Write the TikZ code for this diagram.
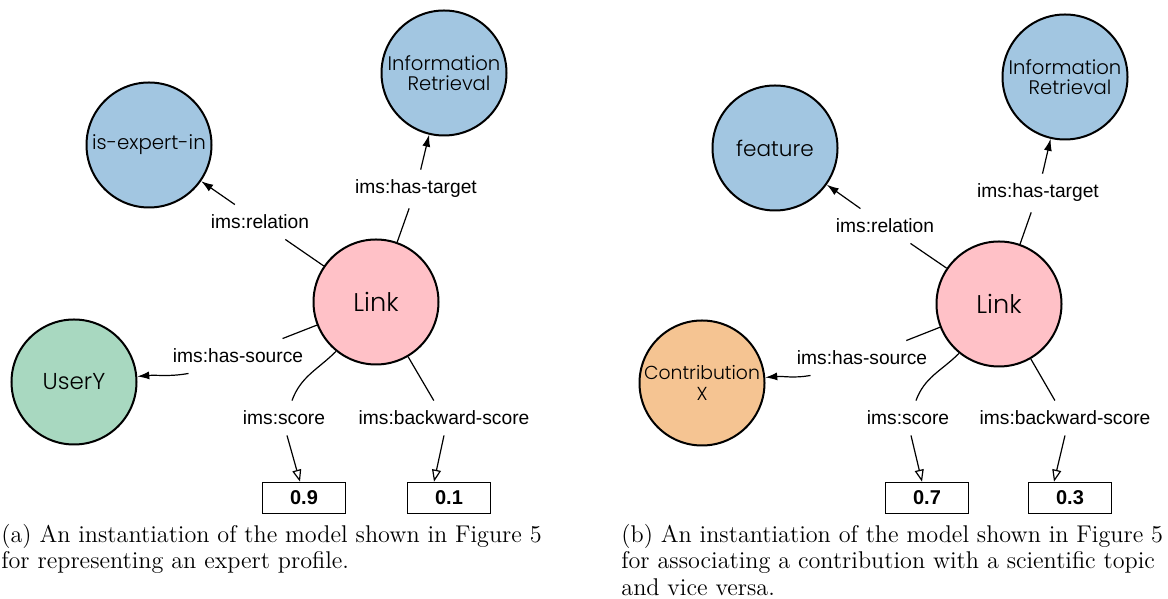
\documentclass[tikz,border=0pt]{standalone}
\usepackage{fontspec}
\usetikzlibrary{arrows.meta}
\newfontfamily\conceptfont{Poppins Light}
\newfontfamily\arialfont{Liberation Sans}
\newcommand{\cfs}[2]{\conceptfont\fontsize{#1}{#2}\selectfont}
\definecolor{topicblue}{RGB}{162,198,225}
\definecolor{linkpink}{RGB}{255,193,199}
\definecolor{usergreen}{RGB}{168,216,192}
\definecolor{contriborange}{RGB}{245,196,146}
\tikzset{
	concept/.style={draw=black, line width=1pt, circle, minimum size=62.5pt, inner sep=0pt, align=center, font=\cfs{10}{10}},
	prop/.style={font=\arialfont\fontsize{9.6}{11}\selectfont, inner sep=5pt},
	val/.style={draw=black, line width=0.8pt, fill=white, minimum width=41.5pt, minimum height=15.5pt, inner sep=0pt, font=\arialfont\bfseries\fontsize{10}{12}\selectfont},
	conn/.style={line width=0.6pt},
	fillarrow/.style={conn, -{Latex[length=6pt,width=4pt]}},
	openarrow/.style={conn, -{Triangle[open,length=6pt,width=4.5pt]}},
	capt/.style={anchor=north west, inner sep=0pt, align=left, font=\fontsize{12.1}{13.2}\selectfont}
}
\begin{document}
\begin{tikzpicture}[x=0.5pt, y=0.5pt]
	\useasboundingbox (0,0) rectangle (1168,599);
	
	\node[concept, fill=topicblue, font=\cfs{9.9}{10}] (expertA) at (149,454) {is-expert-in};
	\node[concept, fill=topicblue, font=\cfs{9.8}{10}] (irA) at (444,526) {Information\\\hspace*{5pt}Retrieval};
	\node[concept, fill=linkpink, font=\cfs{12.8}{12.8}] (linkA) at (376,297) {Link};
	\node[concept, fill=usergreen, font=\cfs{11.5}{11.5}] (userA) at (74,217) {UserY};
	\node[prop] (relA) at (260,377) {ims:relation};
	\node[prop] (tgtA) at (416,410) {ims:has-target};
	\node[prop] (srcA) at (238,243) {ims:has-source};
	\node[prop] (scoreA) at (284,181) {ims:score};
	\node[prop] (bwdA) at (444,181) {ims:backward-score};
	\node[val] (valA1) at (304,101) {0.9};
	\node[val] (valA2) at (449,101) {0.1};
	
	\draw[conn] (linkA) -- (relA);
	\draw[fillarrow] (relA) -- (expertA);
	\draw[conn] (linkA) -- (tgtA);
	\draw[fillarrow] (tgtA) -- (irA);
	\draw[conn] (linkA) -- (srcA);
	\draw[fillarrow] ([xshift=13pt]srcA.south west) to[out=190, in=5] (userA);
	\draw[conn] (linkA.231) to[out=225, in=70] ([xshift=4pt]scoreA.north);
	\draw[openarrow] ([xshift=1.5pt]scoreA.south) -- ([xshift=-2pt]valA1.north);
	\draw[conn] (linkA) -- (bwdA);
	\draw[openarrow] (bwdA.south) -- ([xshift=-7.5pt]valA2.north);
	
	\node[capt] (captA) at (1,75) {(a) An instantiation of the model shown in Figure 5\\for representing an expert profile.};
	
	\node[concept, fill=topicblue, font=\cfs{10.8}{10.8}] (featB) at (775,451) {feature};
	\node[concept, fill=topicblue, font=\cfs{9.8}{10}] (irB) at (1065,522) {Information\\\hspace*{5pt}Retrieval};
	\node[concept, fill=linkpink, font=\cfs{12.8}{12.8}] (linkB) at (999,295) {Link};
	\node[concept, fill=contriborange, font=\cfs{9.4}{10.8}] (contribB) at (702,216) {Contribution\\X};
	\node[prop] (relB) at (885,373) {ims:relation};
	\node[prop] (tgtB) at (1038,406) {ims:has-target};
	\node[prop] (srcB) at (862,241) {ims:has-source};
	\node[prop] (scoreB) at (908,181) {ims:score};
	\node[prop] (bwdB) at (1065,181) {ims:backward-score};
	\node[val] (valB1) at (927,101) {0.7};
	\node[val] (valB2) at (1070,101) {0.3};
	
	\draw[conn] (linkB) -- (relB);
	\draw[fillarrow] (relB) -- (featB);
	\draw[conn] (linkB) -- (tgtB);
	\draw[fillarrow] (tgtB) -- (irB);
	\draw[conn] (linkB) -- (srcB);
	\draw[fillarrow] ([xshift=12pt]srcB.south west) to[out=190, in=5] (contribB);
	\draw[conn] (linkB.231) to[out=225, in=70] ([xshift=4pt]scoreB.north);
	\draw[openarrow] ([xshift=1.5pt]scoreB.south) -- ([xshift=-2.5pt]valB1.north);
	\draw[conn] (linkB) -- (bwdB);
	\draw[openarrow] (bwdB.south) -- ([xshift=-8pt]valB2.north);
	
	\node[capt] (captB) at (621,75) {(b) An instantiation of the model shown in Figure 5\\for associating a contribution with a scientific topic\\and vice versa.};
\end{tikzpicture}
\end{document}
